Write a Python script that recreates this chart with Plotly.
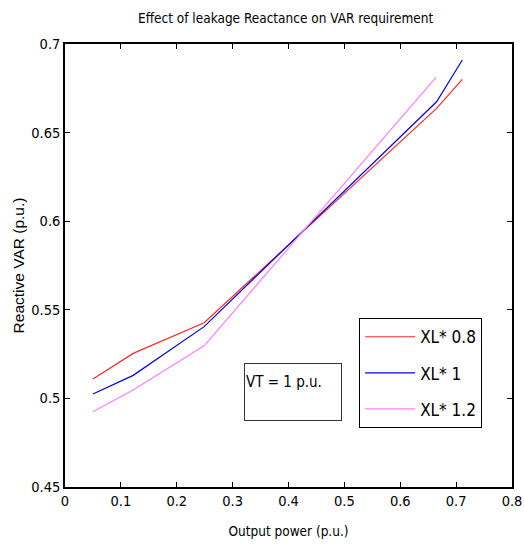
import plotly.graph_objects as go

# Data
x_red = [0.05, 0.122, 0.249, 0.665, 0.711]
y_red = [0.511, 0.5254, 0.5427, 0.6637, 0.680]

x_blue = [0.05, 0.122, 0.249, 0.665, 0.711]
y_blue = [0.5025, 0.513, 0.5405, 0.6674, 0.691]

x_mag = [0.05, 0.122, 0.249, 0.664]
y_mag = [0.4925, 0.5047, 0.5297, 0.6812]

names = ["XL* 0.8", "XL* 1", "XL* 1.2"]
colors = ["#ff2a2a", "#0000ee", "#ff80ff"]

x_ticks = [0, 0.1, 0.2, 0.3, 0.4, 0.5, 0.6, 0.7, 0.8]
y_ticks = [0.45, 0.5, 0.55, 0.6, 0.65, 0.7]

NARROW = "Liberation Sans Narrow, Arial Narrow, DejaVu Sans Condensed, sans-serif"

fig = go.Figure()
for i, (xs, ys) in enumerate([(x_red, y_red), (x_blue, y_blue), (x_mag, y_mag)]):
    fig.add_trace(go.Scatter(x=xs, y=ys, mode="lines", name=names[i],
                             legendgroup=f"g{i}",
                             line=dict(color=colors[i], width=1.2)))

fig.add_annotation(x=0.4077, y=0.5035, xref="x", yref="y",
                   text="VT = 1 p.u.<br> ", showarrow=False,
                   width=94, height=54, align="left", valign="middle",
                   bordercolor="#333", borderwidth=1, borderpad=1,
                   bgcolor="white", font=dict(family=NARROW, size=15, color="black"))

axis_common = dict(showline=True, linecolor="black", linewidth=1.5, mirror="ticks",
                   ticks="inside", ticklen=5, tickcolor="black", tickwidth=1,
                   showgrid=False, zeroline=False, automargin=False,
                   tickfont=dict(family=NARROW, size=14.5, color="black"))

fig.update_xaxes(range=[0, 0.8], tickvals=x_ticks, ticktext=[str(v) for v in x_ticks],
                 title=dict(text="Output power (p.u.)", standoff=18,
                            font=dict(family=NARROW, size=13.5, color="black")),
                 **axis_common)
fig.update_yaxes(range=[0.45, 0.7], tickvals=y_ticks, ticktext=[str(v) for v in y_ticks],
                 title=dict(text="Reactive VAR (p.u.)", standoff=3,
                            font=dict(family="Liberation Sans, Arial, sans-serif", size=15.5, color="black")),
                 **axis_common)

fig.update_layout(
    width=524, height=549,
    margin=dict(l=65, r=12, t=44, b=62),
    paper_bgcolor="white", plot_bgcolor="white",
    title=dict(text="Effect of leakage Reactance on VAR requirement",
               x=0.545, xanchor="center", y=0.967, yanchor="middle",
               font=dict(family=NARROW, size=13.5, color="black")),
    legend=dict(x=0.658, y=0.381, xanchor="left", yanchor="top",
                bordercolor="black", borderwidth=1, bgcolor="white",
                font=dict(family=NARROW, size=17, color="black"),
                traceorder="grouped", tracegroupgap=11, itemwidth=50),
    showlegend=True,
)

fig.write_html("out.html")
